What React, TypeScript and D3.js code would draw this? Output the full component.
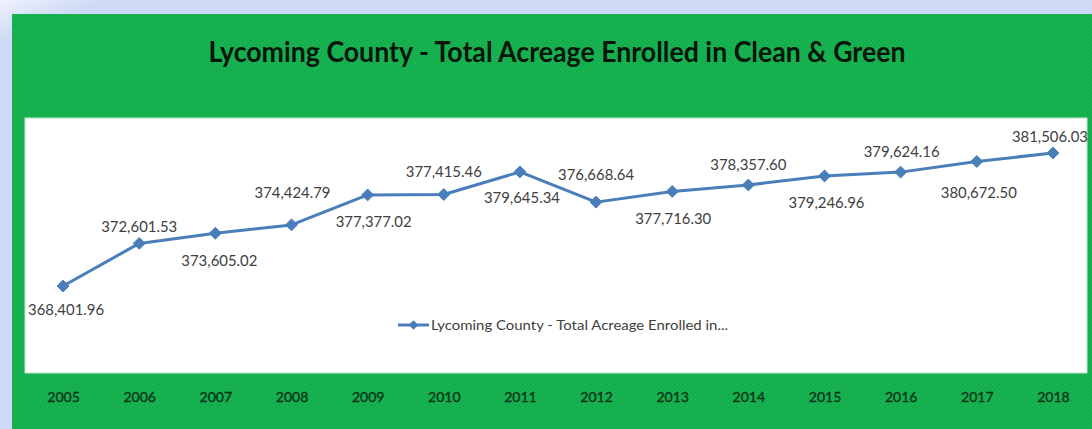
import React, { useEffect, useRef } from "react";
import * as d3 from "d3";

// Tax-year categories and total enrolled acreage
const years = ["2005", "2006", "2007", "2008", "2009", "2010", "2011", "2012", "2013", "2014", "2015", "2016", "2017", "2018"];
const acreage = [368401.96, 372601.53, 373605.02, 374424.79, 377377.02, 377415.46, 379645.34, 376668.64, 377716.3, 378357.6, 379246.96, 379624.16, 380672.5, 381506.03];

// Data-label placement (offset from the marker, px)
const labelDy = [24, -17, 28, -32, 27, -23, 26, -27, 27, -20, 27, -20, 31, -16];
const labelDx = [3, 0, 4, 1, 6, 0, 2, 0, 1, 0, 2, 1, 2, -3];

const titleText = "Lycoming County - Total Acreage Enrolled in Clean & Green";
const legendText = "Lycoming County - Total Acreage Enrolled in...";

const W = 1092;
const H = 429;

export default function App() {
  const ref = useRef<SVGSVGElement>(null);

  useEffect(() => {
    const svg = d3.select(ref.current);
    svg.selectAll("*").remove();

    const defs = svg.append("defs");
    const edge = defs.append("linearGradient").attr("id", "edgeGlow").attr("x1", "0").attr("y1", "0").attr("x2", "1").attr("y2", "1");
    edge.append("stop").attr("offset", "0").attr("stop-color", "#eef2fc");
    edge.append("stop").attr("offset", "0.05").attr("stop-color", "#cdd9f5");
    edge.append("stop").attr("offset", "1").attr("stop-color", "#cdd9f5");

    const pat = defs.append("pattern").attr("id", "dots").attr("width", 4).attr("height", 4).attr("patternUnits", "userSpaceOnUse");
    pat.append("rect").attr("width", 4).attr("height", 4).attr("fill", "#11ae4b");
    pat.append("circle").attr("cx", 1).attr("cy", 1).attr("r", 0.8).attr("fill", "#3fc374").attr("opacity", 0.45);
    pat.append("circle").attr("cx", 3).attr("cy", 3).attr("r", 0.8).attr("fill", "#3fc374").attr("opacity", 0.45);

    // Outer frame and green chart area
    svg.append("rect").attr("width", W).attr("height", H).attr("fill", "url(#edgeGlow)");
    svg.append("rect").attr("x", 12).attr("y", 14).attr("width", W - 12).attr("height", H - 14).attr("fill", "url(#dots)");

    // White plot panel
    svg.append("rect").attr("x", 25).attr("y", 118).attr("width", 1062).attr("height", 255)
      .attr("fill", "#ffffff").attr("stroke", "#bfe6cc").attr("stroke-width", 1);

    // Title
    svg.append("text").attr("x", 557).attr("y", 62).attr("text-anchor", "middle")
      .attr("font-family", "Lato, 'Open Sans', sans-serif").attr("font-weight", 700).attr("font-size", 29)
      .attr("textLength", 697).attr("lengthAdjust", "spacingAndGlyphs")
      .attr("fill", "#07150b").text(titleText);

    const x = d3.scalePoint<string>().domain(years).range([25, 1091]).padding(0.5);
    const y = d3.scaleLinear().domain([364000, 384000]).range([330.7, 127.7]);

    // Category axis labels on the green band
    const xAxis = svg.append("g").attr("transform", "translate(0,397)")
      .call(d3.axisBottom(x).tickSize(0).tickPadding(0));
    xAxis.select(".domain").remove();
    xAxis.selectAll("text")
      .attr("font-family", "Lato, sans-serif").attr("font-size", 14).attr("font-weight", 400)
      .attr("fill", "#0a3519").attr("stroke", "#0a3519").attr("stroke-width", 0.35)
      .attr("dy", "0.35em").attr("y", 0);

    const pts = years.map((yr, i) => ({ yr, v: acreage[i], i }));
    const line = d3.line<typeof pts[number]>().x((d) => x(d.yr)!).y((d) => y(d.v));
    const blue = "#4a7ebb";

    svg.append("path").datum(pts).attr("d", line).attr("fill", "none")
      .attr("stroke", blue).attr("stroke-width", 3).attr("stroke-linejoin", "round");

    const diamond = d3.symbol().type(d3.symbolDiamond2).size(90);
    svg.append("g").selectAll("path").data(pts).join("path")
      .attr("d", diamond)
      .attr("transform", (d) => `translate(${x(d.yr)},${y(d.v)})`)
      .attr("fill", blue).attr("stroke", blue).attr("stroke-width", 1);

    // Data labels
    const fmt = d3.format(",.2f");
    svg.append("g").selectAll("text").data(pts).join("text")
      .attr("x", (d) => x(d.yr)! + labelDx[d.i])
      .attr("y", (d) => y(d.v) + labelDy[d.i])
      .attr("dy", "0.35em").attr("text-anchor", "middle")
      .attr("font-family", "Lato, sans-serif").attr("font-size", 15)
      .attr("textLength", 76).attr("lengthAdjust", "spacingAndGlyphs")
      .attr("fill", "#404040").text((d) => fmt(d.v));

    // Legend
    const lg = svg.append("g").attr("transform", "translate(398,325)");
    lg.append("line").attr("x1", 0).attr("x2", 31).attr("y1", 0).attr("y2", 0).attr("stroke", blue).attr("stroke-width", 3);
    lg.append("path").attr("d", d3.symbol().type(d3.symbolDiamond2).size(60)).attr("transform", "translate(15.5,0)").attr("fill", blue);
    lg.append("text").attr("x", 33).attr("y", 0).attr("dy", "0.35em")
      .attr("font-family", "Lato, sans-serif").attr("font-size", 14)
      .attr("textLength", 297).attr("lengthAdjust", "spacingAndGlyphs")
      .attr("fill", "#404040").text(legendText);
  }, []);

  return (
    <svg ref={ref} width={W} height={H} style={{ position: "absolute", left: 0, top: 0, display: "block" }} />
  );
}
